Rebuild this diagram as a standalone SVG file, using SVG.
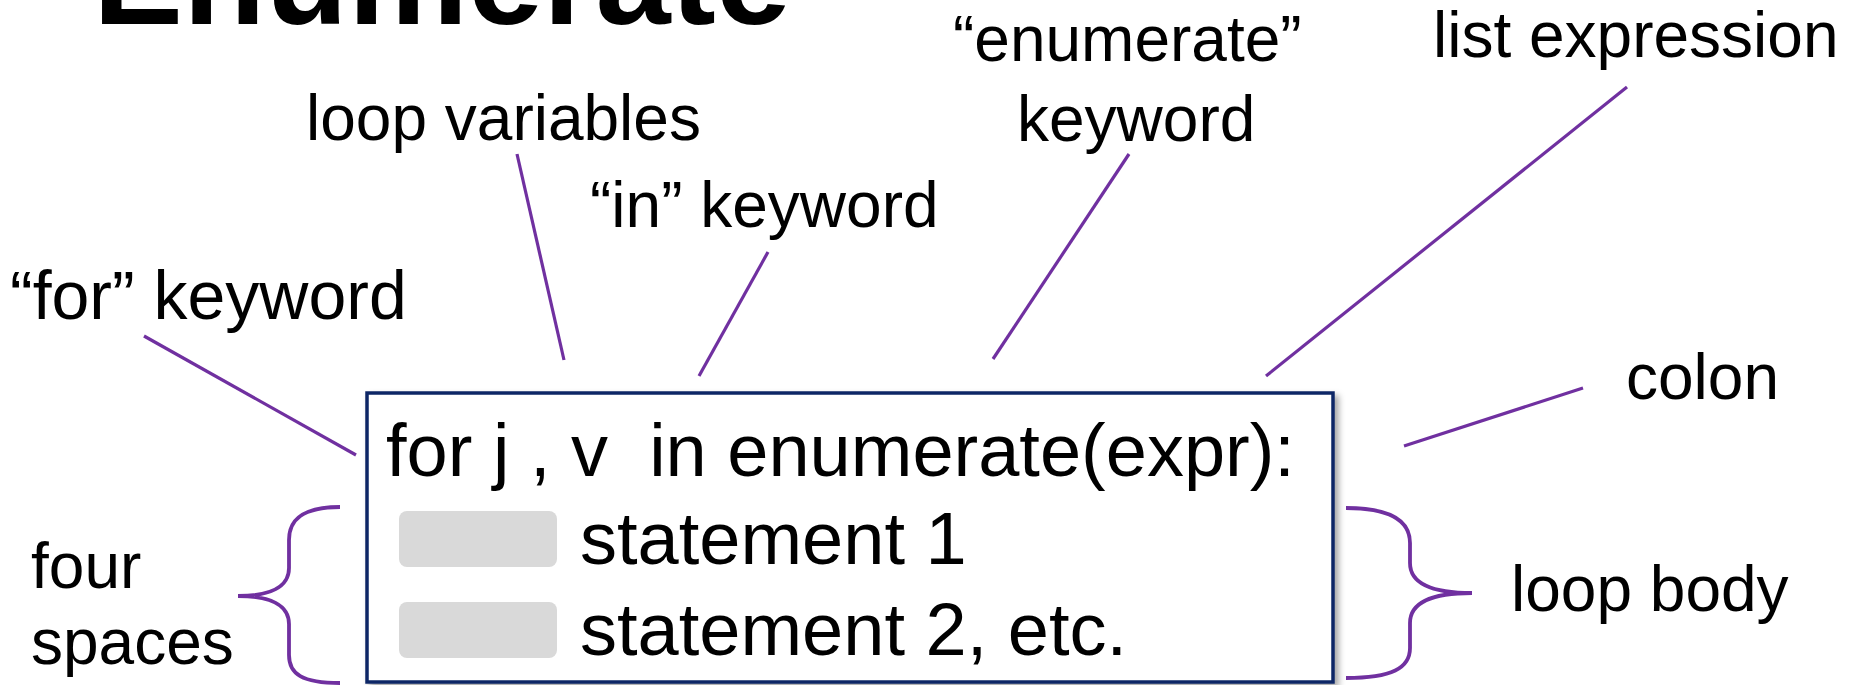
<svg xmlns="http://www.w3.org/2000/svg" width="1856" height="685" viewBox="0 0 1856 685">
<defs>
<style>
.lbl{font-family:"Liberation Sans",Arial,sans-serif;font-size:64px;fill:#000}
.code{font-family:"Liberation Sans",Arial,sans-serif;font-size:74px;fill:#000;white-space:pre}
.conn{stroke:#7030A0;stroke-width:3.2;fill:none;stroke-linecap:butt}
.brace{stroke:#7030A0;stroke-width:3.8;fill:none}
.pad{fill:#D9D9D9}
</style>
<filter id="sh" x="-5%" y="-5%" width="115%" height="115%">
<feDropShadow dx="4" dy="4" stdDeviation="3" flood-color="#000" flood-opacity="0.35"/>
</filter>
</defs>
<rect width="1856" height="685" fill="#fff"/>
<g id="title">
<text x="93" y="24" style="font-family:'Liberation Sans',Arial,sans-serif;font-weight:bold;font-size:135px">Enumerate</text>
</g>
<g id="connectors">
<line class="conn" x1="144" y1="336" x2="356" y2="455"/>
<line class="conn" x1="517" y1="154" x2="564" y2="360"/>
<line class="conn" x1="768" y1="252" x2="699" y2="376"/>
<line class="conn" x1="1129" y1="154" x2="993" y2="359"/>
<line class="conn" x1="1627" y1="87" x2="1266" y2="376"/>
<line class="conn" x1="1583" y1="388" x2="1404" y2="446"/>
<path class="brace" d="M340,507 C302,507 289,520 289,540 L289,568 C289,587 270,596 238,596 C270,596 289,605 289,624 L289,655 C289,674 302,683 340,683"/>
<path class="brace" d="M1346,508 C1392,508 1410,521 1410,543 L1410,563 C1410,584 1434,593 1472,593 C1434,593 1410,602 1410,623 L1410,648 C1410,668 1392,678 1346,678"/>
</g>
<g id="code-box">
<rect x="367" y="393" width="966" height="289" fill="#fff" stroke="#0E2766" stroke-width="3.5" filter="url(#sh)"/>
<text class="code" x="386" y="476">for j , v  in enumerate(expr):</text>
<rect class="pad" x="399" y="511" width="158" height="56" rx="8"/>
<text class="code" x="580" y="564">statement 1</text>
<rect class="pad" x="399" y="602" width="158" height="56" rx="8"/>
<text class="code" x="580" y="655">statement 2, etc.</text>
</g>
<g id="label-for"><text class="lbl" x="10" y="319" style="font-size:68px">“for” keyword</text></g>
<g id="label-loopvars"><text class="lbl" x="306" y="140">loop variables</text></g>
<g id="label-in"><text class="lbl" x="590" y="227">“in” keyword</text></g>
<g id="label-enumerate"><text class="lbl" x="953" y="61">“enumerate”</text><text class="lbl" x="1017" y="141">keyword</text></g>
<g id="label-listexpr"><text class="lbl" x="1433" y="57">list expression</text></g>
<g id="label-colon"><text class="lbl" x="1626" y="399">colon</text></g>
<g id="label-four"><text class="lbl" x="31" y="588">four</text><text class="lbl" x="31" y="664">spaces</text></g>
<g id="label-loopbody"><text class="lbl" x="1511" y="611">loop body</text></g>
</svg>
